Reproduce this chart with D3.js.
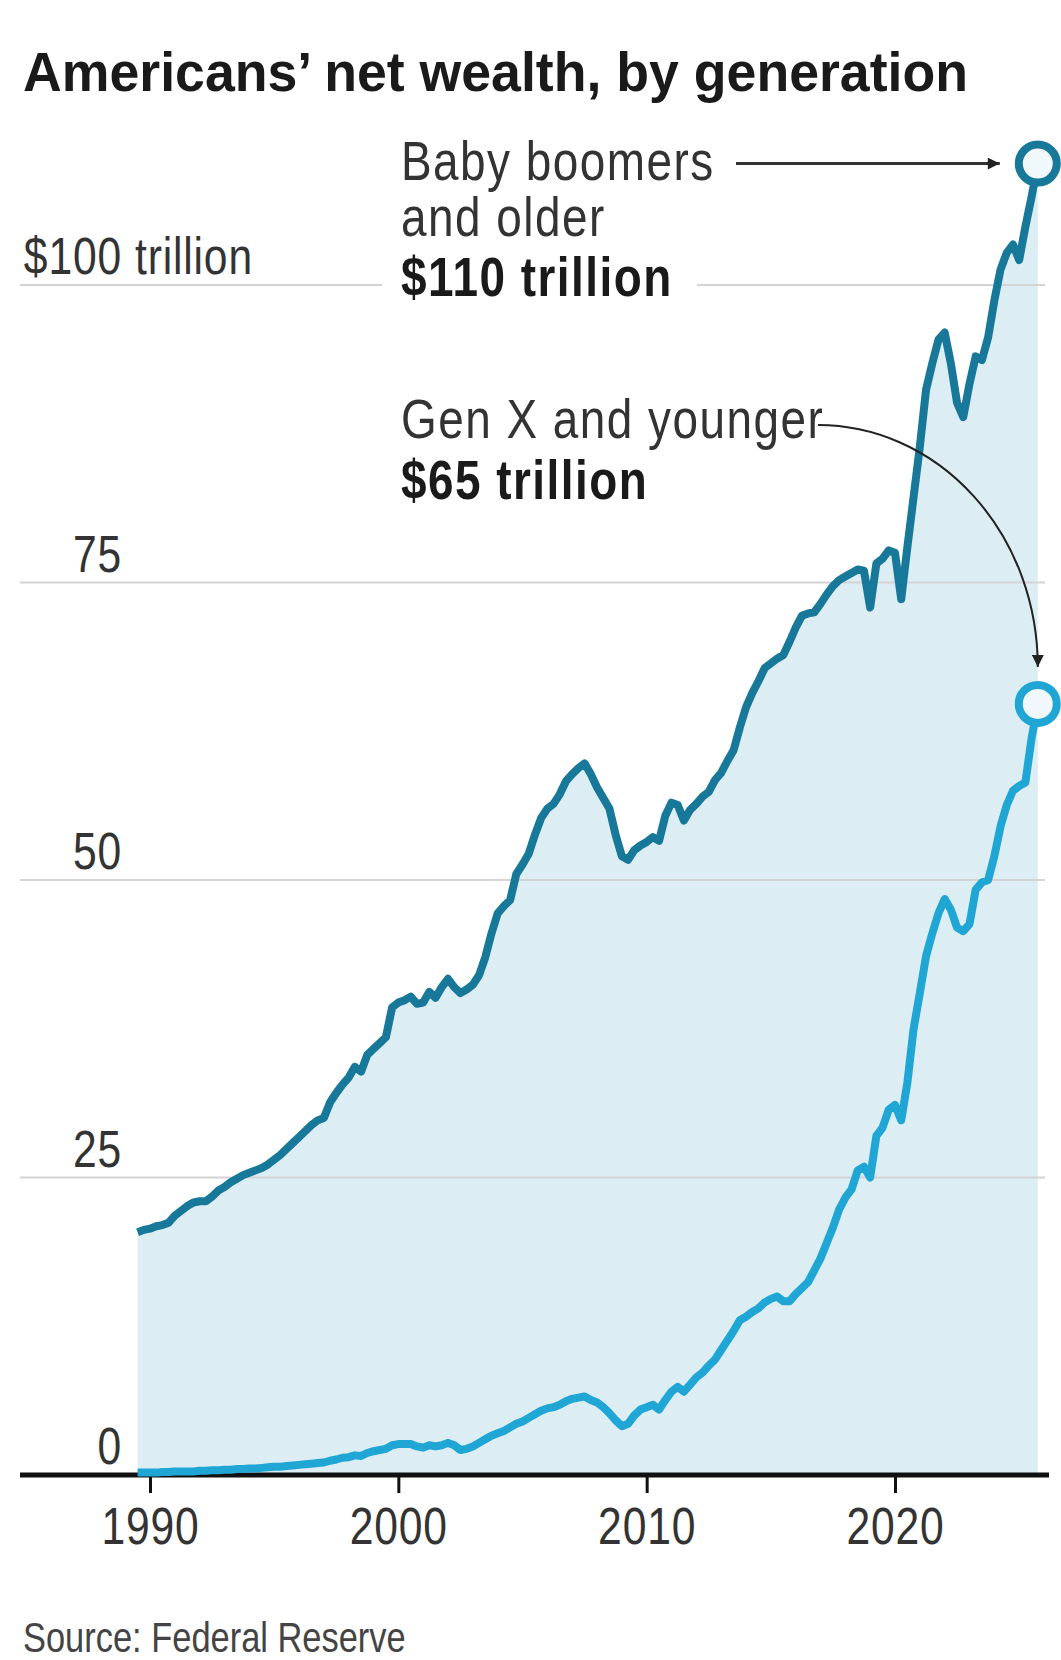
<!DOCTYPE html>
<html>
<head>
<meta charset="utf-8">
<script src="https://cdn.jsdelivr.net/npm/d3@7"></script>
<style>
  html, body { margin: 0; padding: 0; background: #fff; }
  svg { display: block; }
</style>
</head>
<body>
<script>
// Quarterly household net worth, trillions of dollars
const startYear = 1989.5;
const boomers = [
  20.4, 20.6,
  20.7, 20.9, 21.0, 21.2,
  21.8, 22.2, 22.6, 22.9,
  23.0, 23.0, 23.4, 23.9,
  24.2, 24.6, 24.9, 25.2,
  25.4, 25.6, 25.8, 26.1,
  26.5, 26.9, 27.4, 27.9,
  28.4, 28.9, 29.4, 29.8,
  30.0, 31.3, 32.1, 32.8,
  33.4, 34.3, 33.9, 35.3,
  35.8, 36.3, 36.8, 39.3,
  39.7, 39.9, 40.2, 39.6,
  39.7, 40.6, 40.1, 41.0,
  41.7, 41.0, 40.5, 40.8,
  41.2, 42.0, 43.5, 45.5,
  47.2, 47.8, 48.3, 50.5,
  51.3, 52.2, 53.8, 55.2,
  56.0, 56.4, 57.2, 58.3,
  58.9, 59.4, 59.8, 58.9,
  57.8, 56.9, 56.0, 53.8,
  52.0, 51.7, 52.5, 52.9,
  53.2, 53.6, 53.3, 55.4,
  56.5, 56.3, 55.0, 55.9,
  56.4, 57.0, 57.4, 58.4,
  59.0, 60.0, 60.9, 62.8,
  64.5, 65.7, 66.7, 67.8,
  68.2, 68.6, 68.9, 70.0,
  71.2, 72.2, 72.4, 72.5,
  73.2, 74.0, 74.7, 75.2,
  75.5, 75.8, 76.1, 76.0,
  72.9, 76.6, 77.0, 77.7,
  77.5, 73.6, 78.0, 82.2,
  86.4, 91.2, 93.4, 95.4,
  96.0, 93.4, 90.1, 88.9,
  91.7, 94.0, 93.7, 95.6,
  98.7, 101.3, 102.7, 103.4,
  102.1, 104.9, 107.4, 110.2
];
const genX = [
  0.2, 0.2,
  0.2, 0.2, 0.25, 0.25,
  0.3, 0.3, 0.3, 0.3,
  0.35, 0.35, 0.4, 0.4,
  0.45, 0.45, 0.5, 0.5,
  0.55, 0.55, 0.6, 0.65,
  0.7, 0.7, 0.75, 0.8,
  0.85, 0.9, 0.95, 1.0,
  1.05, 1.2, 1.3, 1.45,
  1.5, 1.65, 1.6, 1.85,
  2.0, 2.1, 2.2, 2.5,
  2.6, 2.6, 2.6, 2.4,
  2.3, 2.5, 2.4, 2.5,
  2.7, 2.5, 2.1, 2.2,
  2.4, 2.7, 3.0, 3.3,
  3.5, 3.7, 4.0, 4.3,
  4.5, 4.8, 5.1, 5.4,
  5.6, 5.7, 5.9, 6.2,
  6.4, 6.5, 6.6, 6.3,
  6.1, 5.7, 5.2, 4.6,
  4.1, 4.3, 5.0, 5.5,
  5.7, 5.9, 5.5, 6.3,
  7.0, 7.4, 7.0, 7.6,
  8.2, 8.6, 9.2, 9.7,
  10.5, 11.3, 12.1, 13.0,
  13.3, 13.7, 14.0, 14.5,
  14.8, 15.0, 14.6, 14.6,
  15.2, 15.7, 16.2, 17.2,
  18.2, 19.5, 20.8, 22.3,
  23.3, 24.0, 25.6, 25.9,
  25.0, 28.5, 29.2, 30.7,
  31.1, 29.8, 33.0, 37.5,
  40.5, 43.6, 45.5, 47.2,
  48.4, 47.5, 46.0, 45.7,
  46.3, 49.2, 49.8, 50.0,
  52.0, 54.5, 56.3, 57.5,
  57.9, 58.2, 61.9, 64.8
];
const dates = boomers.map((d, i) => startYear + i * 0.25);

const yearTicks = [1990, 2000, 2010, 2020];
const valueTicks = [0, 25, 50, 75, 100];

const width = 1061;
const height = 1660;

const x = d3.scaleLinear().domain([1990, 2020]).range([150, 895]);
const y = d3.scaleLinear().domain([0, 100]).range([1475, 285]);

const darkBlue = '#18789a';
const lightBlue = '#1fa6d4';
const fillBlue = '#dcedf3';
const font = '"Liberation Sans", Arial, sans-serif';
const squeeze = 0.82; // no narrow face installed, so condense horizontally

const svg = d3.select('body').append('svg')
  .attr('width', width)
  .attr('height', height);

svg.append('rect').attr('width', width).attr('height', height).attr('fill', '#fff');

// condensed text helper
function narrowText(parent, tx, ty, str, size, opts = {}) {
  return parent.append('text')
    .attr('transform', `translate(${tx},${ty}) scale(${squeeze},1)`)
    .attr('text-anchor', opts.anchor || 'start')
    .attr('font-family', font)
    .attr('font-size', size)
    .attr('font-weight', opts.bold ? 'bold' : 'normal')
    .attr('letter-spacing', opts.spacing || 0)
    .attr('fill', opts.fill || '#333')
    .text(str);
}

// arrow heads
const defs = svg.append('defs');
defs.append('marker')
  .attr('id', 'arrow')
  .attr('viewBox', '0 0 10 10')
  .attr('refX', 10).attr('refY', 5)
  .attr('markerWidth', 13).attr('markerHeight', 12)
  .attr('markerUnits', 'userSpaceOnUse')
  .attr('orient', 'auto')
  .append('path')
  .attr('d', 'M0,0L10,5L0,10Z')
  .attr('fill', '#222');

// Title
svg.append('text')
  .attr('x', 23).attr('y', 91)
  .attr('font-family', font)
  .attr('font-weight', 'bold')
  .attr('font-size', 56)
  .attr('fill', '#1a1a1a')
  .attr('textLength', 945)
  .attr('lengthAdjust', 'spacingAndGlyphs')
  .text('Americans\u2019 net wealth, by generation');

// Area under the boomers line
const area = d3.area()
  .x((d, i) => x(dates[i]))
  .y0(y(0))
  .y1(d => y(d));

svg.append('path')
  .datum(boomers)
  .attr('d', area)
  .attr('fill', fillBlue);

// Gridlines and value labels
const grid = svg.append('g');
valueTicks.filter(v => v > 0).forEach(v => {
  grid.append('line')
    .attr('x1', 20).attr('x2', 1045)
    .attr('y1', y(v)).attr('y2', y(v))
    .attr('stroke', '#d4d4d4')
    .attr('stroke-width', 2);
});

valueTicks.forEach(v => {
  narrowText(grid, 122, y(v) - 11, v === 100 ? '$100' : v, 52, { anchor: 'end', spacing: 1 });
});
narrowText(grid, 124, y(100) - 11, 'trillion', 52, { spacing: 1 })
  .attr('transform', `translate(135,${y(100) - 11}) scale(${squeeze},1)`);

// x axis
const xAxis = svg.append('g')
  .attr('transform', `translate(0,${y(0)})`)
  .call(d3.axisBottom(x).tickValues(yearTicks).tickFormat(d3.format('d')).tickSize(18).tickPadding(14));
xAxis.select('.domain').remove();
xAxis.selectAll('.tick line').attr('stroke', '#111').attr('stroke-width', 3);
xAxis.selectAll('.tick text')
  .attr('font-family', font)
  .attr('font-size', 52)
  .attr('letter-spacing', 1)
  .attr('fill', '#333')
  .attr('dy', '0.72em')
  .attr('transform', `scale(${squeeze},1)`);
svg.append('line')
  .attr('x1', 20).attr('x2', 1049)
  .attr('y1', y(0)).attr('y2', y(0))
  .attr('stroke', '#111')
  .attr('stroke-width', 5);

// Lines
const line = d3.line()
  .x((d, i) => x(dates[i]))
  .y(d => y(d));

svg.append('path')
  .datum(genX)
  .attr('d', line)
  .attr('fill', 'none')
  .attr('stroke', lightBlue)
  .attr('stroke-width', 8)
  .attr('stroke-linejoin', 'round');

svg.append('path')
  .datum(boomers)
  .attr('d', line)
  .attr('fill', 'none')
  .attr('stroke', darkBlue)
  .attr('stroke-width', 8)
  .attr('stroke-linejoin', 'round');

// Annotations
const lastX = x(dates[dates.length - 1]);
const bY = y(boomers[boomers.length - 1]);
const gY = y(genX[genX.length - 1]);

svg.append('rect')
  .attr('x', 382).attr('y', y(100) - 6)
  .attr('width', 315).attr('height', 12)
  .attr('fill', '#fff');

const note = svg.append('g');
narrowText(note, 401, 180, 'Baby boomers', 56, { spacing: 1.8 });
narrowText(note, 401, 236, 'and older', 56, { spacing: 1.8 });
narrowText(note, 401, 296, '$110 trillion', 56, { spacing: 1.8, bold: true, fill: '#1a1a1a' });
narrowText(note, 401, 438, 'Gen X and younger', 56, { spacing: 1.8 });
narrowText(note, 401, 499, '$65 trillion', 56, { spacing: 1.8, bold: true, fill: '#1a1a1a' });

svg.append('line')
  .attr('x1', 736).attr('x2', lastX - 38)
  .attr('y1', bY).attr('y2', bY)
  .attr('stroke', '#333')
  .attr('stroke-width', 3)
  .attr('marker-end', 'url(#arrow)');

const arcStart = [818, 425];
const arcEnd = [lastX, gY - 37];
svg.append('path')
  .attr('d', `M${arcStart[0]},${arcStart[1]} A${arcEnd[0] - arcStart[0]},${arcEnd[1] - arcStart[1]} 0 0 1 ${arcEnd[0]},${arcEnd[1]}`)
  .attr('fill', 'none')
  .attr('stroke', '#222')
  .attr('stroke-width', 2)
  .attr('marker-end', 'url(#arrow)');

// End markers
[[bY, darkBlue], [gY, lightBlue]].forEach(([cy, c]) => {
  svg.append('circle')
    .attr('cx', lastX).attr('cy', cy)
    .attr('r', 19)
    .attr('fill', '#f1f8fb')
    .attr('stroke', c)
    .attr('stroke-width', 8);
});

// Source
narrowText(svg, 23, 1652, 'Source: Federal Reserve', 42, { fill: '#444' });
</script>
</body>
</html>
